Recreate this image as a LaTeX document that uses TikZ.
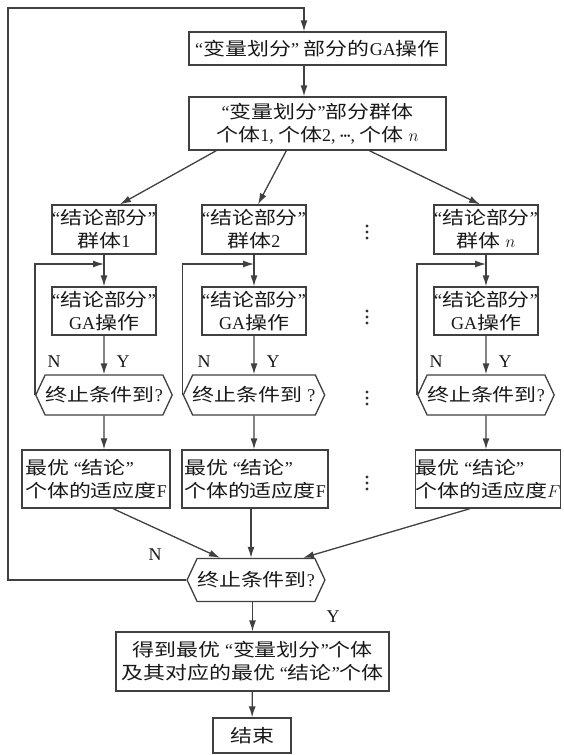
\documentclass[tikz,border=0pt]{standalone}
\usepackage{fontspec}
\setmainfont{Liberation Serif}
\newfontfamily\cjk[FakeStretch=1.22]{Noto Sans CJK SC}
\newcommand{\Lat}[1]{{\rmfamily #1}}
\newcommand{\quo}[1]{\Lat{“}#1\Lat{”}}
\usetikzlibrary{arrows.meta,shapes.symbols}
\tikzset{
	box/.style={draw=black!75, line width=1.3pt, fill=white, inner sep=0pt, align=center, text=black!90, font=\cjk\fontsize{18}{23}\selectfont},
	hexbox/.style={box, signal, signal to=east and west, signal pointer angle=130},
	arr/.style={draw=black!75, line width=1.3pt, -{Latex[length=11pt,width=7pt]}},
	lab/.style={font=\fontsize{18}{20}\selectfont, text=black!90}
}
\begin{document}
\begin{tikzpicture}[x=1pt,y=-1pt]
		\useasboundingbox (0,0) rectangle (563,755);
		\node [box, minimum width=257, minimum height=33] (vga) at (317.5,48.5) {\quo{变量划分} 部分的\Lat{GA}操作};
		\node [box, minimum width=257, minimum height=53] (vpop) at (317.5,123.5) {\quo{变量划分}部分群体\\个体\Lat{1, }个体\Lat{2, }\raisebox{2pt}{\Lat{\fontsize{10}{10}\selectfont •••}}\Lat{, }个体~$n$};
		\coordinate (corner) at (8,8);
		\coordinate (top) at (304,8);
		\foreach \i/\cx/\fx/\fw/\pn/\hq/\fv in {
			1/104/96/148/{\Lat{1}}/{终止条件到\Lat{?}}/{\Lat{F}},
			2/254/255/146/{\Lat{2}}/{终止条件到 \Lat{?}}/{\Lat{F}},
			3/486/488/142/{~$n$}/{终止条件到\Lat{?}}/{$F$}} {
			\node [box, minimum width=104, minimum height=49] (pop\i) at (\cx,229.5) {\quo{结论部分}\\群体\pn};
			\node [box, minimum width=104, minimum height=48] (ga\i) at (\cx,311) {\quo{结论部分}\\\Lat{GA}操作};
			\node [hexbox, minimum width=130, minimum height=40] (stop\i) at (\cx,395) {\hq};
			\node [box, minimum width=\fw, minimum height=58, align=left] (fit\i) at (\fx,479) {最优 \quo{结论}\\个体的适应度\fv};
			\coordinate (back\i) at (\cx,264);
			\draw [arr] (pop\i) -- (ga\i);
			\draw [arr] (stop\i.west) |- (back\i);
			\draw [arr] (ga\i) -- (stop\i);
			\draw [arr] (stop\i) -- (stop\i.south |- fit\i.north);
			\node [lab] (no\i) at (\cx-50,362) {N};
			\node [lab] (yes\i) at (\cx+19,362) {Y};
		}
		% vertical dots between the columns
		\foreach \y in {232, 317, 398, 483} {
			\foreach \d in {-6, 0, 6} {
				\fill [black!80] (367,\y+\d) circle (1.6pt);
			}
		}
		\node [hexbox, minimum width=127, minimum height=43] (stop) at (256,580) {终止条件到\Lat{?}};
		\node [box, minimum width=273, minimum height=59] (best) at (252.5,661.5) {得到最优 \quo{变量划分}个体\\及其对应的最优 \quo{结论}个体};
		\node [box, minimum width=78, minimum height=35] (fin) at (252,735.5) {结束};
		\node [lab] (no) at (155,555) {N};
		\node [lab] (yes) at (333,617) {Y};
		\draw [arr] (stop.west) -| (corner) -- (top) -- (top |- vga.north);
		\draw [arr] (top |- vga.south) -- (top |- vpop.north);
		\draw [arr] ([xshift=28pt]vpop.south west) -- ([xshift=16pt]pop1.north);
		\draw [arr] ([xshift=98pt]vpop.south west) -- ([xshift=4pt]pop2.north);
		\draw [arr] ([xshift=181pt]vpop.south west) -- ([xshift=-6pt]pop3.north);
		\draw [arr] ([xshift=17pt]fit1.south) -- ([xshift=-36pt]stop.north);
		\draw [arr] ([xshift=-4pt]fit2.south) -- ([xshift=-5pt]stop.north);
		\draw [arr] ([xshift=-18pt]fit3.south) -- ([xshift=47pt]stop.north);
		\draw [arr] (best.north |- stop.south) -- (best.north);
		\draw [arr] (best) -- (fin);
	\end{tikzpicture}
\end{document}
